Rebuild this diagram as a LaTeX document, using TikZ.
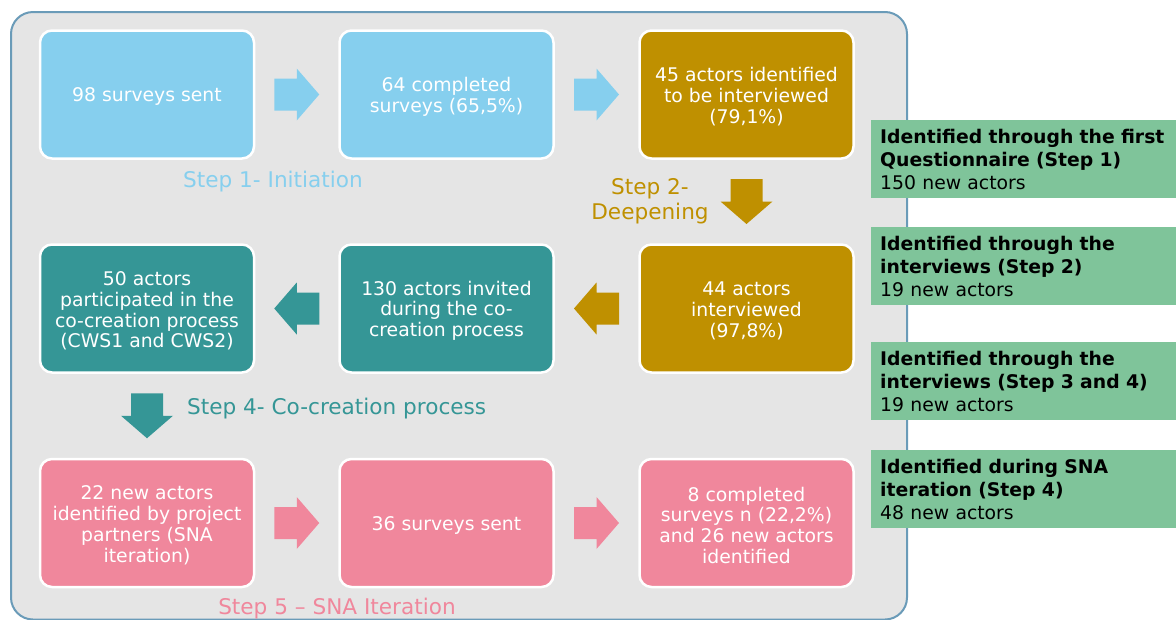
\documentclass[tikz,border=0pt]{standalone}
\usepackage{fontspec}
\setmainfont{DejaVu Sans}
\usetikzlibrary{calc}
\definecolor{skyc}{HTML}{86CFEE}
\definecolor{goldc}{HTML}{BF9000}
\definecolor{tealc}{HTML}{359696}
\definecolor{pinkc}{HTML}{F0879C}
\definecolor{notegreen}{HTML}{7FC49A}
\definecolor{panelfill}{HTML}{E5E5E5}
\definecolor{panelline}{HTML}{6A9BB8}
% invisible strut that lowers the text block a little inside its box
\newcommand\lowerstrut{\rule{0pt}{18.8pt}}
\begin{document}
\begin{tikzpicture}[x=1pt,y=-1pt,
  stepbox/.style={rounded corners=12pt, draw=white, line width=2.5pt,
    minimum width=214pt, minimum height=128pt, inner sep=0pt, text=white,
    align=center, font=\fontsize{18.8}{20.8}\selectfont},
  notebox/.style={fill=notegreen, anchor=north west, minimum width=305pt,
    minimum height=78pt, text width=292pt, inner xsep=9pt, inner ysep=0pt,
    align=left, text=black, font=\fontsize{18.8}{22.8}\selectfont},
  steplabel/.style={font=\fontsize{21.6}{25}\selectfont, inner sep=0pt},
  blockarrow/.pic={\fill (-22.5,-16) -- (0,-16) -- (0,-26) -- (22.5,0)
    -- (0,26) -- (0,16) -- (-22.5,16) -- cycle;}
]
\useasboundingbox (0,0) rectangle (1176,619);

% background panel
\draw[panelline, fill=panelfill, line width=2pt, rounded corners=22pt]
  (11,12) rectangle (907,619.5);

% row 1: initiation
\node[stepbox, fill=skyc] (b1) at (147,94.5) {\lowerstrut 98 surveys sent};
\node[stepbox, fill=skyc] (b2) at (446.5,94.5) {\lowerstrut 64 completed\\surveys (65,5\%)};
\node[stepbox, fill=goldc] (b3) at (746.5,94.5) {\lowerstrut 45 actors identified\\to be interviewed\\(79,1\%)};

% row 2: deepening and co-creation
\node[stepbox, fill=goldc] (b4) at (746.5,308.5) {\lowerstrut 44 actors\\interviewed\\(97,8\%)};
\node[stepbox, fill=tealc] (b5) at (446.5,308.5) {\lowerstrut 130 actors invited\\during the co-\\creation process};
\node[stepbox, fill=tealc] (b6) at (147,308.5) {\lowerstrut 50 actors\\participated in the\\co-creation process\\(CWS1 and CWS2)};

% row 3: SNA iteration
\node[stepbox, fill=pinkc] (b7) at (147,523) {\lowerstrut 22 new actors\\identified by project\\partners (SNA\\iteration)};
\node[stepbox, fill=pinkc] (b8) at (446.5,523) {\lowerstrut 36 surveys sent};
\node[stepbox, fill=pinkc] (b9) at (746.5,523) {\lowerstrut 8 completed\\surveys n (22,2\%)\\and 26 new actors\\identified};

% block arrows between the steps
\pic[fill=skyc] at ($(b1.east)!0.5!(b2.west)$) {blockarrow};
\pic[fill=skyc] at ($(b2.east)!0.5!(b3.west)$) {blockarrow};
\pic[fill=goldc, rotate=-90] at ($(b3.south)!0.5!(b4.north)$) {blockarrow};
\pic[fill=goldc, rotate=180] at ($(b4.west)!0.5!(b5.east)$) {blockarrow};
\pic[fill=tealc, rotate=180] at ($(b5.west)!0.5!(b6.east)$) {blockarrow};
\pic[fill=tealc, rotate=-90] at ($(b6.south)!0.5!(b7.north)$) {blockarrow};
\pic[fill=pinkc] at ($(b7.east)!0.5!(b8.west)$) {blockarrow};
\pic[fill=pinkc] at ($(b8.east)!0.5!(b9.west)$) {blockarrow};

% step labels
\node[steplabel, text=skyc] (l1) at (273,181.5) {Step 1- Initiation};
\node[steplabel, text=goldc, align=center] (l2) at (650,201) {Step 2-\\Deepening};
\node[steplabel, text=tealc, anchor=west] (l4) at (187,409) {Step 4- Co-creation process};
\node[steplabel, text=pinkc] (l5) at (337,609) {Step 5 -- SNA Iteration};

% notes on newly identified actors
\node[notebox] (n1) at (871,120) {\textbf{Identified through the first}\\\textbf{Questionnaire (Step 1)}\\150 new actors};
\node[notebox] (n2) at (871,227) {\textbf{Identified through the}\\\textbf{interviews (Step 2)}\\19 new actors};
\node[notebox] (n3) at (871,342) {\textbf{Identified through the}\\\textbf{interviews (Step 3 and 4)}\\19 new actors};
\node[notebox] (n4) at (871,450) {\textbf{Identified during SNA}\\\textbf{iteration (Step 4)}\\48 new actors};
\end{tikzpicture}
\end{document}
